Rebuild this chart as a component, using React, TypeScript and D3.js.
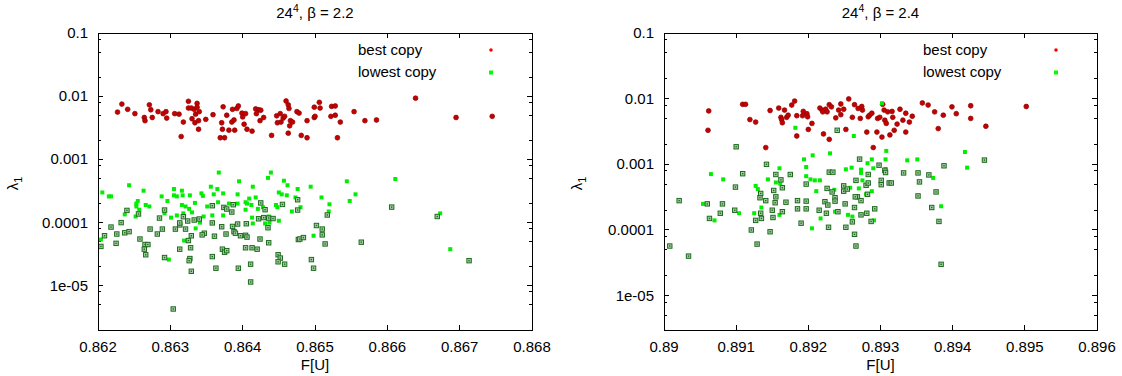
import React from "react";
import * as d3 from "d3";

type Pt = [number, number];

// ---------- beta = 2.2 ----------
const best22: Pt[] = [
  [0.86227,0.0056],[0.86233,0.0075],[0.86241,0.0062],[0.86251,0.0053],[0.86264,0.0046],[0.86265,0.0041],[0.86271,0.0073],[0.86273,0.0061],[0.86275,0.0046],[0.86283,0.0057],[0.8629,0.0053],[0.86294,0.0057],[0.86295,0.0045],[0.86306,0.0053],[0.86312,0.0052],[0.86315,0.0023],[0.86318,0.0039],[0.86325,0.0083],[0.86325,0.0065],[0.86329,0.0065],[0.8633,0.0044],[0.86333,0.0062],[0.86334,0.0038],[0.86335,0.0052],[0.86337,0.0077],[0.86337,0.0067],[0.8634,0.0057],[0.86339,0.0041],[0.86339,0.003],[0.86349,0.0043],[0.86359,0.0051],[0.86369,0.0022],[0.86371,0.0038],[0.86372,0.003],[0.86373,0.0068],[0.86375,0.0022],[0.86378,0.005],[0.86381,0.0029],[0.86385,0.0039],[0.86386,0.0062],[0.86388,0.0042],[0.86389,0.0029],[0.86392,0.0064],[0.86394,0.007],[0.86399,0.0054],[0.864,0.0047],[0.86402,0.0036],[0.86404,0.0053],[0.86406,0.003],[0.86413,0.0028],[0.86418,0.0063],[0.86419,0.0053],[0.86422,0.0061],[0.86424,0.0041],[0.86425,0.006],[0.86429,0.0046],[0.8644,0.0024],[0.86447,0.0049],[0.86448,0.0038],[0.86452,0.0053],[0.86453,0.0039],[0.86456,0.0045],[0.86458,0.0048],[0.8646,0.0084],[0.86463,0.0073],[0.86464,0.0064],[0.86463,0.0026],[0.86465,0.0034],[0.86466,0.0041],[0.86469,0.0039],[0.86475,0.0057],[0.86478,0.0054],[0.86481,0.0024],[0.86489,0.0041],[0.86489,0.0022],[0.86499,0.0067],[0.86499,0.0046],[0.865,0.0048],[0.86506,0.008],[0.86507,0.0065],[0.86522,0.0048],[0.86523,0.0069],[0.86528,0.007],[0.86528,0.005],[0.86531,0.0022],[0.86535,0.0039],[0.86554,0.0057],[0.86569,0.0041],[0.86585,0.0042],[0.86639,0.0093],[0.86695,0.0046],[0.86745,0.0048]
];
const lowest22: Pt[] = [
  [0.86206,3.0e-4],[0.86215,2.6e-4],[0.86218,2.6e-4],[0.86243,3.9e-4],[0.86263,3.2e-4],[0.86253,2.0e-4],[0.86255,2.2e-4],[0.86253,1.8e-4],[0.86257,1.6e-4],[0.86237,1.35e-4],[0.86252,1.25e-4],[0.86266,1.9e-4],[0.86271,1.8e-4],[0.86288,2.6e-4],[0.86296,2.2e-4],[0.86292,1.4e-4],[0.86301,1.2e-4],[0.86305,3.4e-4],[0.86305,2.7e-4],[0.86309,2.6e-4],[0.86316,3.2e-4],[0.86317,2.7e-4],[0.86327,2.7e-4],[0.86321,1.8e-4],[0.86316,1.9e-4],[0.86326,1.65e-4],[0.8633,1.45e-4],[0.86334,2.05e-4],[0.86318,1.4e-4],[0.86309,1.3e-4],[0.86341,1.0e-4],[0.86335,8.1e-5],[0.86343,2.9e-4],[0.86345,2.65e-4],[0.86356,3.7e-4],[0.8636,2.8e-4],[0.86365,3.4e-4],[0.86367,6.2e-4],[0.86366,2.1e-4],[0.86351,1.8e-4],[0.86358,1.3e-4],[0.86346,1.25e-4],[0.86373,2.9e-4],[0.86373,1.3e-4],[0.86381,2.0e-4],[0.86393,2.8e-4],[0.86395,4.5e-4],[0.86393,2.0e-4],[0.86404,2.1e-4],[0.86406,2.0e-4],[0.86404,1.6e-4],[0.86409,2.4e-4],[0.86412,1.9e-4],[0.86413,1.2e-4],[0.86414,3.7e-4],[0.86418,2.5e-4],[0.86414,9.7e-5],[0.86421,1.65e-4],[0.86435,5.1e-4],[0.86439,6.2e-4],[0.86428,1.75e-4],[0.86436,1.25e-4],[0.86437,1.0e-4],[0.86431,9.7e-5],[0.86446,1.9e-4],[0.8645,3.0e-4],[0.8645,1.07e-4],[0.86454,2.8e-4],[0.86457,4.6e-4],[0.86462,3.9e-4],[0.86461,2.7e-4],[0.86448,1.75e-4],[0.86473,2.5e-4],[0.86476,3.4e-4],[0.8648,1.75e-4],[0.86468,1.5e-4],[0.86494,3.7e-4],[0.86509,2.5e-4],[0.8652,1.95e-4],[0.86519,1.5e-4],[0.86498,6.2e-5],[0.86544,4.5e-4],[0.86556,2.8e-4],[0.86548,2.2e-4],[0.86319,5.2e-5],[0.86298,2.6e-5],[0.86204,5.4e-5],[0.86611,4.9e-4],[0.86673,1.4e-4],[0.86687,3.8e-5]
];
const dark22: Pt[] = [
  [0.8624,1.56e-4],[0.86256,1.37e-4],[0.86292,1.58e-4],[0.86285,1.18e-4],[0.86232,1.0e-4],[0.86218,8.5e-5],[0.86209,6.2e-5],[0.86204,4.2e-5],[0.86226,6.6e-5],[0.86225,4.7e-5],[0.86237,6.9e-5],[0.86243,7.2e-5],[0.86258,5.5e-5],[0.86272,7.9e-5],[0.86289,7.9e-5],[0.86282,6.6e-5],[0.86265,4.5e-5],[0.86269,4.5e-5],[0.86264,3.8e-5],[0.86266,3.1e-5],[0.86292,2.8e-5],[0.86313,3.8e-5],[0.86307,7.9e-5],[0.86313,9.2e-5],[0.86313,9.9e-5],[0.86318,1.24e-4],[0.86324,1.06e-4],[0.86321,7.9e-5],[0.86329,6.2e-5],[0.86325,5.2e-5],[0.86328,4.0e-5],[0.86327,2.7e-5],[0.86326,2.5e-5],[0.86329,1.7e-5],[0.86304,4.3e-6],[0.86333,1.1e-4],[0.8634,1.14e-4],[0.86358,1.85e-4],[0.86358,9.9e-5],[0.86347,6.8e-5],[0.86344,6.4e-5],[0.86361,6.1e-5],[0.86371,8.6e-5],[0.86377,6.6e-5],[0.86372,3.8e-5],[0.86375,3.4e-5],[0.86378,3.6e-5],[0.86358,2.9e-5],[0.86363,1.9e-5],[0.86374,1.74e-4],[0.86378,1.64e-4],[0.86385,1.47e-4],[0.86387,1.92e-4],[0.86386,8.7e-5],[0.86388,7.2e-5],[0.8639,6.8e-5],[0.86393,9.5e-5],[0.86397,6.2e-5],[0.86404,6.3e-5],[0.86405,9.6e-5],[0.86406,5.9e-5],[0.86404,4.0e-5],[0.86413,4.0e-5],[0.8642,3.8e-5],[0.86394,1.9e-5],[0.86411,2.2e-5],[0.86411,1.15e-5],[0.86425,2.05e-4],[0.86431,1.6e-4],[0.86422,1.15e-4],[0.86429,1.2e-4],[0.86436,1.18e-4],[0.86442,1.16e-4],[0.86435,8.3e-5],[0.86424,5.5e-5],[0.86436,4.8e-5],[0.86455,1.94e-4],[0.86476,2.3e-4],[0.86476,1.58e-4],[0.86449,3.1e-5],[0.86452,2.75e-5],[0.86449,2.4e-5],[0.86458,2.2e-5],[0.86477,5.4e-5],[0.86479,5.5e-5],[0.86484,5.8e-5],[0.86502,9.0e-5],[0.8651,7.9e-5],[0.8651,6.4e-5],[0.86514,4.6e-5],[0.86517,1.32e-4],[0.86495,2.6e-5],[0.86498,1.9e-5],[0.86564,4.9e-5],[0.86606,1.76e-4],[0.86669,1.25e-4],[0.86713,2.5e-5]
];

// ---------- beta = 2.4 ----------
const best24: Pt[] = [
  [0.89062,0.0065],[0.89061,0.0033],[0.89109,0.0082],[0.89113,0.0082],[0.89119,0.0048],[0.89127,0.0044],[0.89141,0.0018],[0.89147,0.0066],[0.89159,0.0072],[0.89162,0.0052],[0.89163,0.0048],[0.89164,0.0043],[0.89167,0.0067],[0.8917,0.0052],[0.89172,0.0056],[0.89177,0.008],[0.89181,0.0092],[0.89184,0.0027],[0.89184,0.0055],[0.89193,0.0064],[0.89192,0.0055],[0.89198,0.0059],[0.89199,0.0053],[0.89205,0.0042],[0.892,0.0034],[0.89216,0.0072],[0.89219,0.0067],[0.89224,0.0069],[0.8922,0.0063],[0.89226,0.0063],[0.89229,0.0081],[0.89232,0.0075],[0.89238,0.0051],[0.89242,0.0067],[0.89245,0.0083],[0.89245,0.0057],[0.89249,0.0069],[0.89252,0.0034],[0.89256,0.0099],[0.89261,0.0052],[0.89264,0.0081],[0.89269,0.0071],[0.89272,0.005],[0.89274,0.0076],[0.89275,0.0067],[0.89283,0.0053],[0.89285,0.0056],[0.89288,0.006],[0.89296,0.005],[0.89281,0.0031],[0.89295,0.0031],[0.89221,0.0029],[0.89229,0.0024],[0.8929,0.0018],[0.89302,0.0026],[0.89303,0.0082],[0.89305,0.0067],[0.89306,0.0047],[0.89308,0.0042],[0.8931,0.0063],[0.89313,0.0028],[0.89299,0.0052],[0.89316,0.0064],[0.89327,0.0069],[0.89358,0.0086],[0.89366,0.008],[0.89375,0.0063],[0.89387,0.0056],[0.89399,0.0075],[0.89405,0.0059],[0.89425,0.0078],[0.89425,0.005],[0.89502,0.0076],[0.89317,0.0052],[0.89323,0.0041],[0.89331,0.0047],[0.89335,0.006],[0.8934,0.0044],[0.89344,0.0054],[0.89319,0.0033],[0.89335,0.0031],[0.8938,0.0035],[0.89446,0.0038]
];
const lowest24: Pt[] = [
  [0.89182,0.0036],[0.89263,0.0027],[0.89302,0.0085],[0.89065,7.1e-4],[0.89082,5.9e-4],[0.89054,2.5e-4],[0.8907,1.4e-4],[0.89104,1.8e-4],[0.89125,1.8e-4],[0.89127,4.7e-4],[0.8913,4.2e-4],[0.89135,2.2e-4],[0.89144,5.9e-4],[0.8916,8.7e-4],[0.89155,5.3e-4],[0.89161,5.1e-4],[0.8916,1.7e-4],[0.89194,1.19e-3],[0.89197,9.1e-4],[0.89197,6.6e-4],[0.89203,5.9e-4],[0.89209,5.7e-4],[0.89216,5.7e-4],[0.89211,3.9e-4],[0.89206,1.37e-3],[0.8923,1.47e-3],[0.89205,1.06e-4],[0.89217,1.5e-4],[0.89237,1.9e-4],[0.89252,8.4e-4],[0.8926,8.9e-4],[0.89252,4.2e-4],[0.89258,4.4e-4],[0.89255,1.7e-4],[0.89261,1.6e-4],[0.89273,8.3e-4],[0.89273,7.4e-4],[0.89275,5.7e-4],[0.8927,4.3e-4],[0.89282,1.04e-3],[0.89288,1.19e-3],[0.89288,3.9e-4],[0.8928,3.5e-4],[0.89291,1.4e-4],[0.89307,1.19e-3],[0.89307,8.5e-4],[0.89313,5.2e-4],[0.89236,4.1e-4],[0.89308,1.6e-3],[0.89337,1.15e-3],[0.89351,1.19e-3],[0.8929,8.7e-4],[0.89373,6.2e-4],[0.89417,1.54e-3],[0.8942,8.9e-4],[0.89384,2.3e-4]
];
const dark24: Pt[] = [
  [0.8924,3.3e-3],[0.891,1.85e-3],[0.89021,2.8e-4],[0.89008,5.7e-5],[0.89034,4.0e-5],[0.8906,2.5e-4],[0.89063,1.5e-4],[0.89078,1.8e-4],[0.89081,2.5e-4],[0.89098,2.0e-4],[0.89099,4.5e-4],[0.89109,7.2e-4],[0.89121,1.0e-4],[0.89127,1.4e-4],[0.89129,6.1e-5],[0.89133,3.1e-4],[0.89134,3.6e-4],[0.89134,1.8e-4],[0.89135,1.5e-4],[0.89141,2.8e-4],[0.89142,1.0e-3],[0.89147,9.4e-5],[0.8915,2.0e-4],[0.89151,1.55e-4],[0.89152,4.0e-4],[0.89154,2.6e-4],[0.89155,7.0e-4],[0.89155,3.2e-4],[0.89162,5.8e-4],[0.89164,4.4e-4],[0.89164,1.9e-4],[0.89169,2.65e-4],[0.89175,7.0e-4],[0.89185,2.8e-4],[0.89185,2.1e-4],[0.8919,1.27e-4],[0.89197,5.0e-4],[0.89197,2.75e-4],[0.89197,2.1e-4],[0.89215,2.0e-4],[0.89223,2.7e-4],[0.89225,1.8e-4],[0.89226,4.3e-4],[0.89227,2.4e-4],[0.89228,1.1e-4],[0.89229,7.6e-4],[0.89234,7.6e-4],[0.89233,3.8e-4],[0.89237,3.1e-4],[0.89237,2.75e-4],[0.89241,1.9e-4],[0.89249,4.7e-4],[0.89249,3.9e-4],[0.89251,2.5e-4],[0.89252,1.1e-4],[0.89254,4.2e-4],[0.89261,1.33e-4],[0.89264,2.2e-4],[0.89264,8.6e-5],[0.89266,5.7e-5],[0.89266,5.7e-4],[0.89268,3.2e-4],[0.89271,1.2e-3],[0.89273,2.8e-4],[0.89273,1.7e-4],[0.8928,4.8e-4],[0.89282,3.5e-4],[0.89283,5.2e-4],[0.89283,7.0e-4],[0.89287,1.35e-4],[0.89292,2.1e-4],[0.89298,9.7e-4],[0.89301,5.7e-4],[0.89301,4.9e-4],[0.89306,8.1e-4],[0.89307,7.5e-4],[0.89312,5.2e-4],[0.89332,7.4e-4],[0.89352,7.4e-4],[0.89367,6.9e-4],[0.89388,9.5e-4],[0.89444,1.16e-3],[0.89315,5.2e-4],[0.89354,5.4e-4],[0.89265,3.2e-4],[0.89352,3.3e-4],[0.89377,3.8e-4],[0.89281,1.8e-4],[0.89371,2.2e-4],[0.89381,1.35e-4],[0.89384,3.0e-5]
];

const yTickValues = [0.1, 0.01, 0.001, 1e-4, 1e-5];
const yTickLabels = ["0.1", "0.01", "0.001", "0.0001", "1e-05"];
const minorMultipliers = [2, 5, 8];
const legendLabels = ["best copy", "lowest copy"];

const FONT = "'Liberation Sans', Arial, Helvetica, sans-serif";
const FS = 15;

type PanelProps = {
  x0: number; x1: number; y0: number; y1: number;
  xDomain: [number, number]; yDomain: [number, number];
  beta: string; yLabelX: number;
  best: Pt[]; lowest: Pt[]; dark: Pt[];
};

function Panel(p: PanelProps) {
  const x = d3.scaleLinear().domain(p.xDomain).range([p.x0, p.x1]);
  const y = d3.scaleLog().domain(p.yDomain).range([p.y1, p.y0]);
  const xTicks = x.ticks(6);
  const fmt = d3.format("~g");
  const minor: number[] = [];
  for (let e = -7; e <= -1; e++) {
    for (const m of minorMultipliers) {
      const v = m * Math.pow(10, e);
      if (v > p.yDomain[0] * 1.001 && v < p.yDomain[1] * 0.999) minor.push(v);
    }
  }
  const MAJ = 5, MIN = 3;
  const cx = (p.x0 + p.x1) / 2;
  const cy = (p.y0 + p.y1) / 2;
  const legTextX = p.x1 - 174;
  const legMarkX = p.x1 - 41;
  return (
    <g fontFamily={FONT} fontSize={FS} fill="#000">
      {/* title */}
      <text x={cx} y={18} textAnchor="middle">
        <tspan>24</tspan>
        <tspan dy={-6} fontSize={10.5}>4</tspan>
        <tspan dy={6}>{`, \u03b2 = ${p.beta}`}</tspan>
      </text>
      {/* ticks */}
      <g stroke="#000" strokeWidth={1} shapeRendering="crispEdges">
        {xTicks.map((t, i) => (
          <g key={"xt" + i}>
            <line x1={x(t)} x2={x(t)} y1={p.y1} y2={p.y1 - MAJ} />
            <line x1={x(t)} x2={x(t)} y1={p.y0} y2={p.y0 + MAJ} />
          </g>
        ))}
        {yTickValues.map((t, i) => (
          <g key={"yt" + i}>
            <line x1={p.x0} x2={p.x0 + MAJ} y1={y(t)} y2={y(t)} />
            <line x1={p.x1} x2={p.x1 - MAJ} y1={y(t)} y2={y(t)} />
          </g>
        ))}
        {minor.map((t, i) => (
          <g key={"ym" + i}>
            <line x1={p.x0} x2={p.x0 + MIN} y1={y(t)} y2={y(t)} />
            <line x1={p.x1} x2={p.x1 - MIN} y1={y(t)} y2={y(t)} />
          </g>
        ))}
      </g>
      {/* tick labels */}
      {xTicks.map((t, i) => (
        <text key={"xl" + i} x={x(t)} y={p.y1 + 22} textAnchor="middle">{fmt(t)}</text>
      ))}
      {yTickValues.map((t, i) => (
        <text key={"yl" + i} x={p.x0 - 10} y={y(t) + 5} textAnchor="end">{yTickLabels[i]}</text>
      ))}
      {/* axis labels */}
      <text x={cx} y={p.y1 + 40} textAnchor="middle">F[U]</text>
      <text transform={`translate(${p.yLabelX},${cy + 2}) rotate(-90)`} textAnchor="middle">
        <tspan>{"\u03bb"}</tspan>
        <tspan dy={4} fontSize={11}>1</tspan>
      </text>
      {/* data */}
      <g>
        {p.best.map((d, i) => (
          <circle key={"b" + i} cx={x(d[0])} cy={y(d[1])} r={2.4} fill="#c40000" stroke="#8e0000" strokeWidth={0.7} />
        ))}
      </g>
      <g>
        {p.lowest.map((d, i) => (
          <rect key={"l" + i} x={x(d[0]) - 2} y={y(d[1]) - 2} width={4} height={4} fill="#00ee00" />
        ))}
      </g>
      <g>
        {p.dark.map((d, i) => (
          <g key={"d" + i}>
            <rect x={x(d[0]) - 2.2} y={y(d[1]) - 2.2} width={4.4} height={4.4} fill="#a6cfa6" stroke="#1d6a1d" strokeWidth={1} />
            <rect x={x(d[0]) - 0.7} y={y(d[1]) - 0.7} width={1.4} height={1.4} fill="#1d6a1d" />
          </g>
        ))}
      </g>
      {/* legend */}
      <text x={legTextX} y={55}>{legendLabels[0]}</text>
      <circle cx={legMarkX} cy={50} r={1.8} fill="#ff0000" />
      <text x={legTextX} y={77}>{legendLabels[1]}</text>
      <rect x={legMarkX - 2} y={70.5} width={4} height={4} fill="#00ff00" />
      {/* frame */}
      <rect x={p.x0} y={p.y0} width={p.x1 - p.x0} height={p.y1 - p.y0} fill="none" stroke="#000" strokeWidth={1} shapeRendering="crispEdges" />
    </g>
  );
}

export default function App() {
  return (
    <svg width={1122} height={376} style={{ position: "absolute", left: 0, top: 0, background: "#fff" }}>
      <rect width={1122} height={376} fill="#fff" />
      <Panel x0={98} x1={532} y0={33} y1={330} xDomain={[0.862, 0.868]} yDomain={[2e-6, 0.1]}
        beta="2.2" yLabelX={18} best={best22} lowest={lowest22} dark={dark22} />
      <Panel x0={664} x1={1097} y0={33} y1={330} xDomain={[0.89, 0.896]} yDomain={[3e-6, 0.1]}
        beta="2.4" yLabelX={582} best={best24} lowest={lowest24} dark={dark24} />
    </svg>
  );
}
